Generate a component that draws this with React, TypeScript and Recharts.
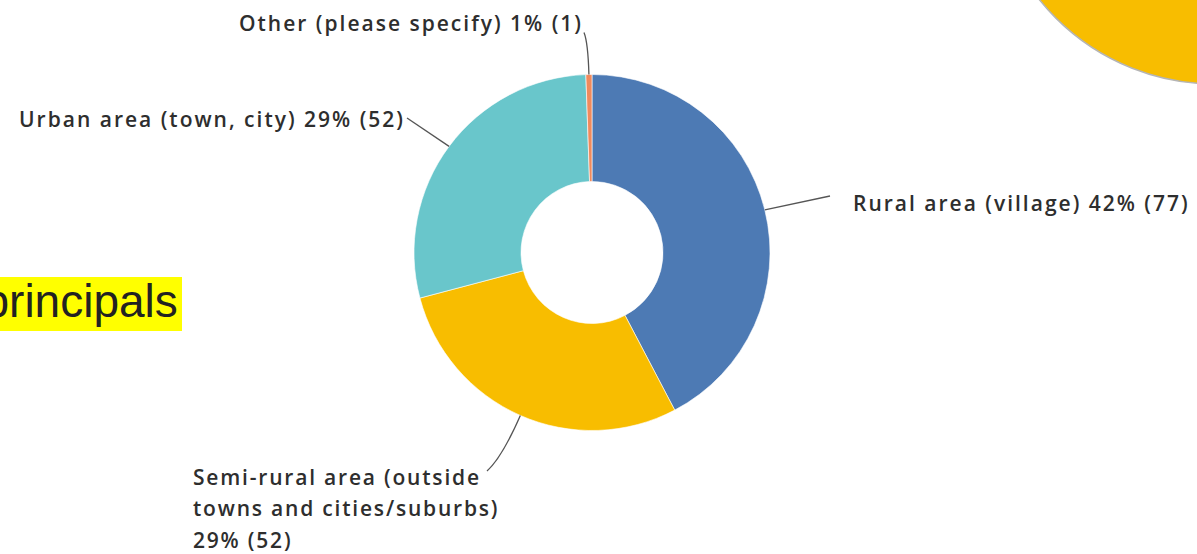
import React from "react"
import { PieChart, Pie, Cell } from "recharts"

const categories = [
  "Rural area (village)",
  "Semi-rural area (outside towns and cities/suburbs)",
  "Urban area (town, city)",
  "Other (please specify)",
]
const counts = [77, 52, 52, 1]
const sliceColors = ["#4d7ab4", "#f8bd00", "#69c6cb", "#f08a5d"]

const total = counts.reduce((a, b) => a + b, 0)
const data = categories.map((name, i) => ({ name, value: counts[i] }))

const W = 1197
const H = 554
const CX = 592
const CY = 252.5

// leader line / label placement, relative to the pie centre
const labelLayout = [
  { elbow: [238, -56.5], end: [238, -56.5], text: [261, -42], anchor: "start", wrap: 0, spacing: 2 },
  { elbow: [-90, 205], end: [-105, 218.5], text: [-399, 232], anchor: "start", wrap: 1, spacing: 1.8 },
  { elbow: [-185, -134.5], end: [-185, -134.5], text: [-187, -126], anchor: "end", wrap: 0, spacing: 2 },
  { elbow: [-4, -210], end: [-8, -220], text: [-9, -221.5], anchor: "end", wrap: 0, spacing: 2 },
]

const font = "'Open Sans', sans-serif"

function renderLabel(props: any) {
  const { cx, cy, midAngle, outerRadius, index, name, value } = props
  const rad = (Math.PI / 180) * midAngle
  const sx = cx + outerRadius * Math.cos(rad)
  const sy = cy - outerRadius * Math.sin(rad)
  const l = labelLayout[index]
  const ex = cx + l.end[0]
  const ey = cy + l.end[1]
  const mx = cx + l.elbow[0]
  const my = cy + l.elbow[1]
  const pct = Math.round((value / total) * 100)
  const tail = `${pct}% (${value})`
  let lines = [`${name} ${tail}`]
  if (l.wrap) {
    const cut = name.indexOf(" towns")
    lines = [name.slice(0, cut), name.slice(cut + 1), tail]
  }
  return (
    <g key={`lbl-${index}`}>
      <path
        d={`M${sx},${sy} Q${mx},${my} ${ex},${ey}`}
        fill="none"
        stroke="#555"
        strokeWidth={1.3}
      />
      <text
        x={cx + l.text[0]}
        y={cy + l.text[1]}
        textAnchor={l.anchor}
        fill="#2e2e2e"
        fontFamily={font}
        fontWeight={600}
        fontSize={21}
        letterSpacing={l.spacing}
      >
        {lines.map((t, i) => (
          <tspan key={i} x={cx + l.text[0]} dy={i === 0 ? 0 : 31.5}>
            {t}
          </tspan>
        ))}
      </text>
    </g>
  )
}

export default function App() {
  return (
    <div style={{ position: "absolute", left: 0, top: 0, width: W, height: H, background: "#fff", overflow: "hidden" }}>
      <svg width={W} height={H} style={{ position: "absolute", left: 0, top: 0 }}>
        <circle cx={1215} cy={-141} r={225} fill="#f8bd00" stroke="#b5b5b5" strokeWidth={1.5} />
        <rect x={-10} y={277} width={192} height={54} fill="#ffff00" />
        <text x={-16.5} y={317} fontFamily="'Liberation Sans', Arial, sans-serif" fontSize={46} fill="#222">
          principals
        </text>
      </svg>
      <div style={{ position: "absolute", left: 0, top: 0 }}>
        <PieChart width={W} height={H} margin={{ top: 0, right: 0, bottom: 0, left: 0 }}>
          <Pie
            data={data}
            dataKey="value"
            nameKey="name"
            cx={CX}
            cy={CY}
            innerRadius={71}
            outerRadius={178}
            startAngle={90}
            endAngle={-270}
            stroke="#ffffff"
            strokeWidth={0.6}
            label={renderLabel}
            labelLine={false}
            isAnimationActive={false}
          >
            {data.map((_, i) => (
              <Cell key={i} fill={sliceColors[i]} />
            ))}
          </Pie>
        </PieChart>
      </div>
    </div>
  )
}
